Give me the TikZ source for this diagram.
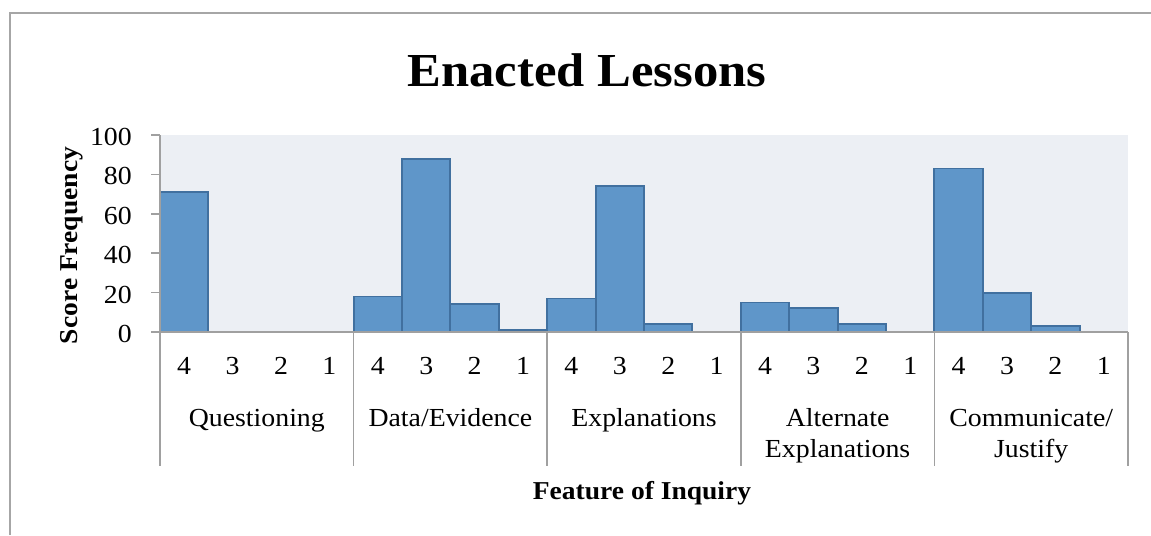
\documentclass[tikz,border=0pt]{standalone}
\usepackage{fontspec}
\setmainfont{Liberation Serif}[FakeStretch=1.07]
\definecolor{framegray}{HTML}{A6A6A6}
\definecolor{axisgray}{HTML}{A0A0A0}
\definecolor{plotbg}{HTML}{ECEFF4}
\definecolor{barfill}{HTML}{5F96C9}
\definecolor{baredge}{HTML}{41709F}
\begin{document}
\begin{tikzpicture}[x=0.75pt,y=-0.75pt,
  frameline/.style={draw=framegray,line width=1.1pt},
  axisline/.style={draw=axisgray,line width=1.1pt},
  barbox/.style={fill=barfill,draw=baredge,line width=1.4pt},
  axtext/.style={font=\fontsize{19.5}{23}\selectfont,inner sep=0pt},
  grouptext/.style={font=\fontsize{19.5}{23}\selectfont,inner sep=0pt,align=center,anchor=north},
  titletext/.style={font=\fontsize{35.5}{40}\selectfont\bfseries,inner sep=0pt,anchor=base},
  axtitle/.style={font=\fontsize{19.3}{23}\selectfont\bfseries,inner sep=0pt,anchor=base}]
\useasboundingbox (0,0) rectangle (1151,535);
% chart frame
\draw[frameline] (10,535) -- (10,13) -- (1151,13);
% plot area
\fill[plotbg] (160,135) rectangle (1128,332);
% bars
\foreach \v [count=\k from 0] in {71,0,0,0,18,88,14,1,17,74,4,0,15,12,4,0,83,20,3,0}{
  \ifnum\v>0
    \draw[barbox] ({160+48.4*\k},332) rectangle ({160+48.4*(\k+1)},{332-1.97*\v});
  \fi
}
% y axis
\draw[axisline] (160,135) -- (160,332);
\foreach \t in {0,20,40,60,80,100}{
  \draw[axisline] (151,{332-1.97*\t}) -- (160,{332-1.97*\t});
  \node[axtext,anchor=base east] (ylab\t) at (132,{332-1.97*\t+10.5}) {\t};
}
% x axis
\draw[axisline] (151,332) -- (1128,332);
\foreach \g in {0,...,5}{
  \draw[axisline] ({160+193.6*\g},332) -- ({160+193.6*\g},466);
}
% score digits
\foreach \g in {0,...,4}{
  \foreach \d [count=\i from 0] in {4,3,2,1}{
    \node[axtext,anchor=base] (d\g\i) at ({160+193.6*\g+48.4*(\i+0.5)},374.5) {\d};
  }
}
% group labels
\node[grouptext] (gq) at ({160+193.6*0.5},405) {\strut Questioning};
\node[grouptext] (gd) at ({160+193.6*1.5},405) {\strut Data/Evidence};
\node[grouptext] (ge) at ({160+193.6*2.5},405) {\strut Explanations};
\node[grouptext] (ga) at ({160+193.6*3.5},405) {\strut Alternate\\Explanations};
\node[grouptext] (gc) at ({160+193.6*4.5},405) {\strut Communicate/\\Justify};
% titles
\node[titletext] (title) at (587,86.5) {Enacted Lessons};
\node[axtitle] (xtitle) at (642,499) {Feature of Inquiry};
\node[axtitle,rotate=90] (ytitle) at (77,245.5) {Score Frequency};
\end{tikzpicture}
\end{document}
